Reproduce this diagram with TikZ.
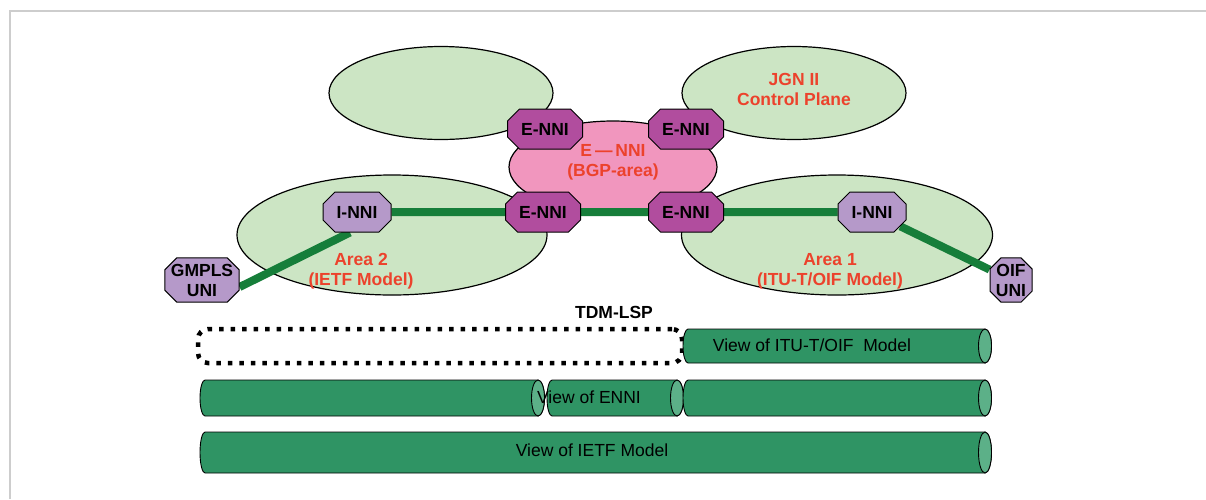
\documentclass[tikz,border=0pt]{standalone}
\usepackage{fontspec}
\setmainfont{Liberation Sans}
\usepackage{tikz}
\usetikzlibrary{shapes.geometric, shapes.misc}

\definecolor{areagreen}{RGB}{204,229,196}
\definecolor{bgppink}{RGB}{241,150,190}
\definecolor{ennifill}{RGB}{177,77,158}
\definecolor{innifill}{RGB}{181,153,201}
\definecolor{labelred}{RGB}{236,66,44}
\definecolor{linkgreen}{RGB}{22,126,58}
\definecolor{tubegreen}{RGB}{47,148,100}
\definecolor{tubeend}{RGB}{92,176,136}
\definecolor{framegray}{RGB}{205,205,205}

\pgfdeclarelayer{back}
\pgfdeclarelayer{links}
\pgfsetlayers{back,links,main}

\newcommand{\lblfont}{\fontsize{17.5}{20}\selectfont}

\begin{document}
\begin{tikzpicture}[x=1pt, y=-1pt,
    area/.style={ellipse, draw, line width=1.2pt, fill=areagreen, inner sep=0pt},
    box/.style={chamfered rectangle, chamfered rectangle xsep=6pt, chamfered rectangle ysep=6pt,
      draw, line width=1pt, inner sep=0pt, minimum height=40pt, align=center, font=\lblfont\bfseries},
    enni/.style={box, fill=ennifill, minimum width=75pt},
    inni/.style={box, fill=innifill, minimum width=68pt},
    link/.style={linkgreen, line width=8pt},
    redlabel/.style={text=labelred, align=center, font=\lblfont\bfseries},
    tube/.style={draw, line width=0.9pt, fill=tubegreen},
    tubecap/.style={draw, line width=0.9pt, fill=tubeend},
    lsp/.style={draw, line width=4.5pt, dash pattern=on 4.5pt off 7pt, rounded corners=10pt, inner sep=0pt}]

    \useasboundingbox (0,0) rectangle (1206,499);
    \draw[framegray, line width=2pt] (10,499) -- (10,11) -- (1206,11);

    % Control plane areas
    \begin{pgfonlayer}{back}
      \node[area, minimum width=224pt, minimum height=93pt] (cpleft) at (441,93) {};
      \node[area, minimum width=224pt, minimum height=93pt] (jgn) at (794,93) {};
      \node[area, minimum width=310pt, minimum height=120pt] (area2) at (392,235) {};
      \node[area, minimum width=311pt, minimum height=120pt] (area1) at (837,235) {};
      \node[ellipse, draw, line width=1.2pt, fill=bgppink, minimum width=208pt, minimum height=92pt] (bgp) at (613,167) {};
    \end{pgfonlayer}

    % Interfaces
    \node[enni] (enni1) at (545,129) {E-NNI};
    \node[enni] (enni2) at (686,129) {E-NNI};
    \node[enni] (enni3) at (543,212) {E-NNI};
    \node[enni] (enni4) at (686,212) {E-NNI};
    \node[inni] (innil) at (357,212) {I-NNI};
    \node[inni] (innir) at (872,212) {I-NNI};
    \node[inni, minimum width=69pt] (gmpls) at (202,280) {GMPLS\\UNI};
    \node[inni, minimum width=42pt, chamfered rectangle xsep=5pt] (oif) at (1011,280) {OIF\\UNI};

    % TDM path through the areas
    \begin{pgfonlayer}{links}
      \draw[link] ([yshift=-7pt]gmpls.east) -- ([xshift=-7pt]innil.south);
      \draw[link] (innil) -- (enni3);
      \draw[link] (enni3) -- (enni4);
      \draw[link] (enni4) -- (innir);
      \draw[link] (innir.south east) -- (oif);
    \end{pgfonlayer}

    % Area labels
    \node[redlabel] (jgnlabel) at (794,89) {JGN II\\Control Plane};
    \node[redlabel] (bgplabel) at (613,162) {E\,—\,NNI\\(BGP-area)};
    \node[redlabel] (area2label) at (361,271) {Area 2\\(IETF Model)};
    \node[redlabel] (area1label) at (830,271) {Area 1\\(ITU-T/OIF Model)};

    % Views of the LSP
    \node[font=\lblfont\bfseries] (lsplabel) at (614,312) {TDM-LSP};
    \node[lsp, minimum width=484pt, minimum height=34pt] (lspbox) at (440,346) {};
    \foreach \l/\c/\t/\b in {683/985/329/363, 200/538/380/416, 547/677/380/416, 683/985/380/416, 200/985/432/473}{
      \pgfmathsetmacro{\tubr}{(\b-\t)/2}
      \pgfmathsetmacro{\tubm}{(\b+\t)/2}
      \draw[tube] (\l+5,\t) -- (\c,\t) arc[start angle=90, end angle=-90, x radius=6.5pt, y radius=\tubr pt]
        -- (\l+5,\b) arc[start angle=270, end angle=90, x radius=5pt, y radius=\tubr pt] -- cycle;
      \draw[tubecap] (\c,\tubm) ellipse[x radius=6.5pt, y radius=\tubr pt];
    }
    \node[font=\lblfont] (viewoif) at (812,345) {View of ITU-T/OIF \ Model};
    \node[font=\lblfont] (viewenni) at (589,397) {View of ENNI};
    \node[font=\lblfont] (viewietf) at (592,450) {View of IETF Model};
\end{tikzpicture}
\end{document}
